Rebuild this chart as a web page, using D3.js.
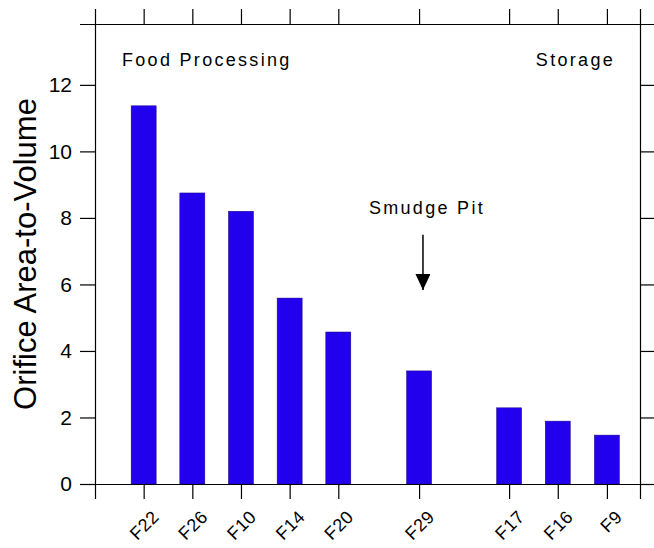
<!DOCTYPE html>
<meta charset="utf-8">
<style>
  body { margin: 0; background: #fff; }
  svg { display: block; font-family: "Liberation Sans", Arial, sans-serif; }
  .axis path, .axis line { stroke: #000; stroke-width: 1.2; }
</style>
<svg></svg>
<script src="https://cdn.jsdelivr.net/npm/d3@7"></script>
<script>
// DATA
var sites = ["F22", "F26", "F10", "F14", "F20", "F29", "F17", "F16", "F9"];
var sitePos = [1, 2, 3, 4, 5, 6.66, 8.51, 9.51, 10.52]; // position along x
var ratios = [11.37, 8.75, 8.2, 5.59, 4.57, 3.4, 2.29, 1.89, 1.47];
var yTicks = [0, 2, 4, 6, 8, 10, 12];

// annotations, in data units
var notes = [
  {text: "Food Processing", x: 0.555, y: 12.57},
  {text: "Storage", x: 9.06, y: 12.57},
  {text: "Smudge Pit", x: 5.63, y: 8.12}
];
var arrowX = 6.74, arrowFrom = 7.49, arrowTo = 5.83;

// SVG SETUP
var svg = d3.select("svg").attr("width", 654).attr("height", 548);

var x = d3.scaleLinear().domain([0, 11.2]).range([95, 640]);
var y = d3.scaleLinear().domain([0, 13.83]).range([484, 24]);
var barW = x(0.514) - x(0);

// BARS
svg.append("g").selectAll("rect")
  .data(ratios)
  .enter().append("rect")
    .attr("x", function(d, i) { return x(sitePos[i]) - barW / 2; })
    .attr("y", function(d) { return y(d); })
    .attr("width", barW)
    .attr("height", function(d) { return y(0) - y(d); })
    .attr("fill", "#2200ee")
    .attr("stroke", "#1a0080")
    .attr("stroke-width", 0.5);

// AXES (box with ticks outside on every side)
var tk = 15;
svg.append("g").attr("class", "axis")
  .attr("transform", "translate(" + x(0) + ",0)")
  .call(d3.axisLeft(y).tickValues(yTicks).tickSize(tk).tickSizeOuter(tk).tickPadding(8))
  .selectAll("text").attr("font-size", 21).attr("fill", "#000")
  .attr("font-family", "Liberation Sans, Arial, sans-serif");

svg.append("g").attr("class", "axis")
  .attr("transform", "translate(" + x.range()[1] + ",0)")
  .call(d3.axisRight(y).tickValues(yTicks).tickSize(tk).tickSizeOuter(tk).tickFormat(""));

svg.append("g").attr("class", "axis")
  .attr("transform", "translate(0," + y.range()[1] + ")")
  .call(d3.axisTop(x).tickValues(sitePos).tickSize(tk).tickSizeOuter(tk).tickFormat(""));

var xAxis = svg.append("g").attr("class", "axis")
  .attr("transform", "translate(0," + y(0) + ")")
  .call(d3.axisBottom(x).tickValues(sitePos).tickSize(tk).tickSizeOuter(tk)
    .tickFormat(function(d, i) { return sites[i]; }));

xAxis.selectAll("text")
  .attr("x", 0).attr("y", 0).attr("dy", 0)
  .attr("text-anchor", "end")
  .attr("transform", "translate(16,34) rotate(-45)")
  .attr("font-size", 18)
  .attr("letter-spacing", "0.5px")
  .attr("fill", "#000")
  .attr("font-family", "Liberation Sans, Arial, sans-serif");

// Y TITLE
svg.append("text")
  .attr("transform", "translate(36," + ((y.range()[0] + y.range()[1]) / 2) + ") rotate(-90)")
  .attr("text-anchor", "middle")
  .attr("font-size", 31)
  .attr("fill", "#000")
  .text("Orifice Area-to-Volume");

// NOTES
svg.append("g").selectAll("text")
  .data(notes)
  .enter().append("text")
    .attr("x", function(d) { return x(d.x); })
    .attr("y", function(d) { return y(d.y); })
    .attr("font-size", 18)
    .attr("letter-spacing", "2.3px")
    .attr("fill", "#000")
    .text(function(d) { return d.text; });

// ARROW
svg.append("defs").append("marker")
    .attr("id", "head")
    .attr("viewBox", "0 0 16 15")
    .attr("refX", 16).attr("refY", 7.5)
    .attr("markerWidth", 16).attr("markerHeight", 15)
    .attr("markerUnits", "userSpaceOnUse")
    .attr("orient", "auto")
  .append("path")
    .attr("d", "M0,0 L16,7.5 L0,15 Z")
    .attr("fill", "#000");

svg.append("line")
  .attr("x1", x(arrowX)).attr("x2", x(arrowX))
  .attr("y1", y(arrowFrom)).attr("y2", y(arrowTo))
  .attr("stroke", "#000")
  .attr("stroke-width", 1.5)
  .attr("marker-end", "url(#head)");
</script>
